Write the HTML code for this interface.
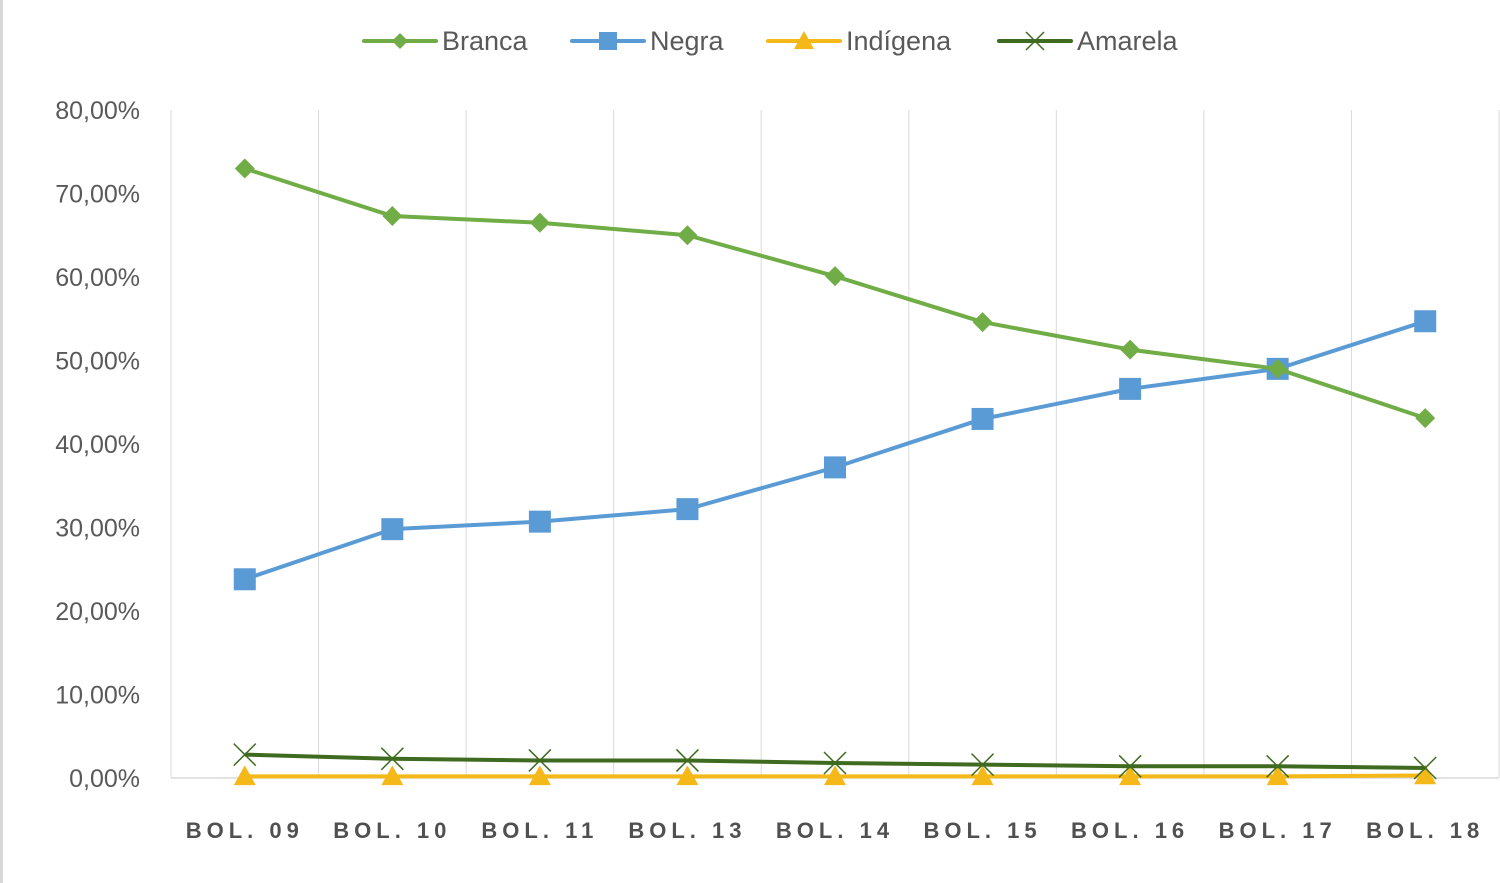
<!DOCTYPE html>
<html><head><meta charset="utf-8"><style>
body{margin:0;background:#fff;}
svg{display:block;font-family:"Liberation Sans",sans-serif;}
</style></head><body>
<svg id="c" width="1500" height="883"></svg>
<script>
const categories=["BOL. 09","BOL. 10","BOL. 11","BOL. 13","BOL. 14","BOL. 15","BOL. 16","BOL. 17","BOL. 18"];
const branca=[73.0,67.3,66.5,65.0,60.1,54.6,51.3,49.0,43.1];
const negra=[23.8,29.8,30.7,32.2,37.2,43.0,46.6,49.0,54.7];
const indigena=[0.2,0.2,0.2,0.2,0.2,0.2,0.2,0.2,0.3];
const amarela=[2.8,2.3,2.1,2.1,1.8,1.6,1.4,1.4,1.2];
const yTicks=[0,10,20,30,40,50,60,70,80];
const seriesNames=["Branca","Negra","Indígena","Amarela"];

const NS="http://www.w3.org/2000/svg";
const svg=document.getElementById('c');
const L=171,R=1499,T=110,B=778;
const bw=(R-L)/categories.length;
const x=i=>L+bw*(i+0.5);
const y=v=>B-(v/80)*(B-T);
function mk(tag,a,parent){const e=document.createElementNS(NS,tag);for(const k in a)e.setAttribute(k,a[k]);(parent||svg).appendChild(e);return e;}

const border=mk('rect',{x:0,y:0,width:3,height:883,fill:'#d9d9d9'});



for(let i=0;i<=categories.length;i++){
  const g=mk('line',{x1:L+bw*i,x2:L+bw*i,y1:T,y2:B,stroke:'#d9d9d9','stroke-width':1});
  
  
}
const ax=mk('line',{x1:L,x2:R,y1:B,y2:B,stroke:'#d9d9d9','stroke-width':1.5});



yTicks.forEach(v=>{
  const t=mk('text',{x:140,y:y(v)+9,'text-anchor':'end','font-size':25,fill:'#595959'});
  t.textContent=v.toFixed(2).replace('.',',')+'%';
  
  
});
categories.forEach((c,i)=>{
  const t=mk('text',{x:x(i),y:838,'text-anchor':'middle','font-size':22,'font-weight':'bold',fill:'#505050','letter-spacing':'5'});
  t.textContent=c;
  
  
});

function marker(kind,cx,cy,col,g,s){
  let e;
  if(kind==='diamond')e=mk('polygon',{points:`${cx},${cy-s} ${cx+s},${cy} ${cx},${cy+s} ${cx-s},${cy}`,fill:col},g);
  else if(kind==='square')e=mk('rect',{x:cx-s,y:cy-s,width:2*s,height:2*s,fill:col},g);
  else if(kind==='triangle')e=mk('polygon',{points:`${cx},${cy-s} ${cx+s},${cy+s*0.8} ${cx-s},${cy+s*0.8}`,fill:col},g);
  else e=mk('path',{d:`M${cx-s} ${cy-s}L${cx+s} ${cy+s}M${cx-s} ${cy+s}L${cx+s} ${cy-s}`,stroke:col,'stroke-width':1.5,fill:'none'},g);
  return e;
}
const defs=[
 {data:indigena,col:'#f4b918',kind:'triangle',s:11,name:'indigena'},
 {data:amarela,col:'#3e6b1f',kind:'x',s:11,name:'amarela'},
 {data:negra,col:'#5b9bd5',kind:'square',s:11,name:'negra'},
 {data:branca,col:'#70ad47',kind:'diamond',s:10,name:'branca'}
];
defs.forEach(d=>{
  const g=mk('g',{});
  
  
  const p=mk('polyline',{points:d.data.map((v,i)=>x(i)+','+y(v)).join(' '),fill:'none',stroke:d.col,'stroke-width':4,'stroke-linejoin':'round'},g);
  
  
  d.data.forEach((v,i)=>{
    const m=marker(d.kind,x(i),y(v),d.col,g,d.s);
    
    
  });
});

const leg=[{n:'Branca',col:'#70ad47',k:'diamond',x:364,s:8},{n:'Negra',col:'#5b9bd5',k:'square',x:572,s:9},{n:'Indígena',col:'#f4b918',k:'triangle',x:768,s:10},{n:'Amarela',col:'#3e6b1f',k:'x',x:999,s:9}];
leg.forEach(l=>{
  const g=mk('g',{});
  
  
  mk('line',{x1:l.x,x2:l.x+72,y1:41,y2:41,stroke:l.col,'stroke-width':4,'stroke-linecap':'round'},g);
  marker(l.k,l.x+36,41,l.col,g,l.s);
  const t=mk('text',{x:l.x+78,y:50,'font-size':27,fill:'#595959'},g);
  t.textContent=l.n;
});
</script>
</body></html>
